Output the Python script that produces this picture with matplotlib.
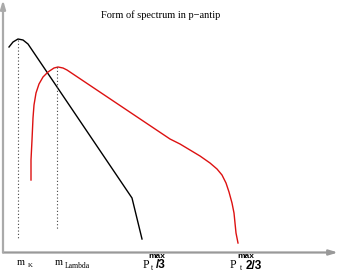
import matplotlib
matplotlib.use("Agg")
import matplotlib.pyplot as plt

# schematic drawing, coordinates in picture units (x to the right, y up from the x axis)
AXIS_Y = 252.5

# black curve: K spectrum
k_x = [9, 13, 18, 23, 28, 132, 142]
k_y = [47, 42, 39, 40, 44, 198, 239]

# red curve: Lambda spectrum
lam_x = [31, 31, 32, 33, 34, 36, 39, 43, 48, 54, 58, 63, 67,
         170, 180, 190, 200, 210, 217, 222, 226, 229, 232, 234, 235, 236, 238]
lam_y = [180, 160, 140, 118, 105, 93, 84, 77, 72, 68, 67, 68, 70,
         139, 144, 150, 156, 163, 169, 175, 183, 192, 203, 213, 223, 233, 243]

# dotted markers at the peaks
mark_x = [18, 57]
mark_top = [40, 67]
mark_bot = [238, 230]


def h(py):
    return AXIS_Y - py


fig = plt.figure(figsize=(3.4, 2.77), dpi=100)
ax = fig.add_axes([0, 0, 1, 1])
ax.set_xlim(0, 340)
ax.set_ylim(AXIS_Y - 277, AXIS_Y)
ax.axis("off")

# axes with arrows
ax.annotate("", xy=(338, 0), xytext=(3, 0),
            arrowprops=dict(arrowstyle="-|>,head_length=0.5,head_width=0.15",
                            color="#999999", lw=1.6, shrinkA=0, shrinkB=0))
ax.annotate("", xy=(3, h(0)), xytext=(3, 0),
            arrowprops=dict(arrowstyle="-|>,head_length=0.5,head_width=0.15",
                            color="#aaaaaa", lw=1.6, shrinkA=0, shrinkB=0))

ax.plot(k_x, [h(v) for v in k_y], color="black", lw=1.0)
ax.plot(lam_x, [h(v) for v in lam_y], color="#dd1111", lw=1.0)

for x, t, b in zip(mark_x, mark_top, mark_bot):
    ax.plot([x, x], [h(t), h(b)], color="#444444", lw=0.8, ls=(0, (1, 2)))

serif = "Liberation Serif"
sans = "Liberation Sans"
ax.text(161, h(15), "Form of spectrum in p\u2212antip", family=serif, fontsize=7.5,
        ha="center", va="center")

ax.text(17, h(262.5), "m", family=serif, fontsize=7.5, va="center")
ax.text(27.5, h(265.5), "K", family=serif, fontsize=5, va="center")
ax.text(55, h(262.5), "m", family=serif, fontsize=7.5, va="center")
ax.text(65, h(266), "Lambda", family=serif, fontsize=5.5, va="center")

ax.text(142.5, h(264.5), "P", family=serif, fontsize=8.5, va="center")
ax.text(150.5, h(268), "t", family=serif, fontsize=5.5, va="center")
ax.text(148.5, h(257), "max", family=sans, fontsize=6, fontweight="bold", va="center")
ax.text(155.5, h(265), "/3", family=sans, fontsize=8.5, fontweight="bold", va="center")

ax.text(230, h(265.5), "P", family=serif, fontsize=8.5, va="center")
ax.text(239.5, h(267.5), "t", family=serif, fontsize=5.5, va="center")
ax.text(237.5, h(257), "max", family=sans, fontsize=6, fontweight="bold", va="center")
ax.text(245.5, h(266), "2/3", family=sans, fontsize=8.5, fontweight="bold", va="center")

fig.savefig("out.png", dpi=100)
